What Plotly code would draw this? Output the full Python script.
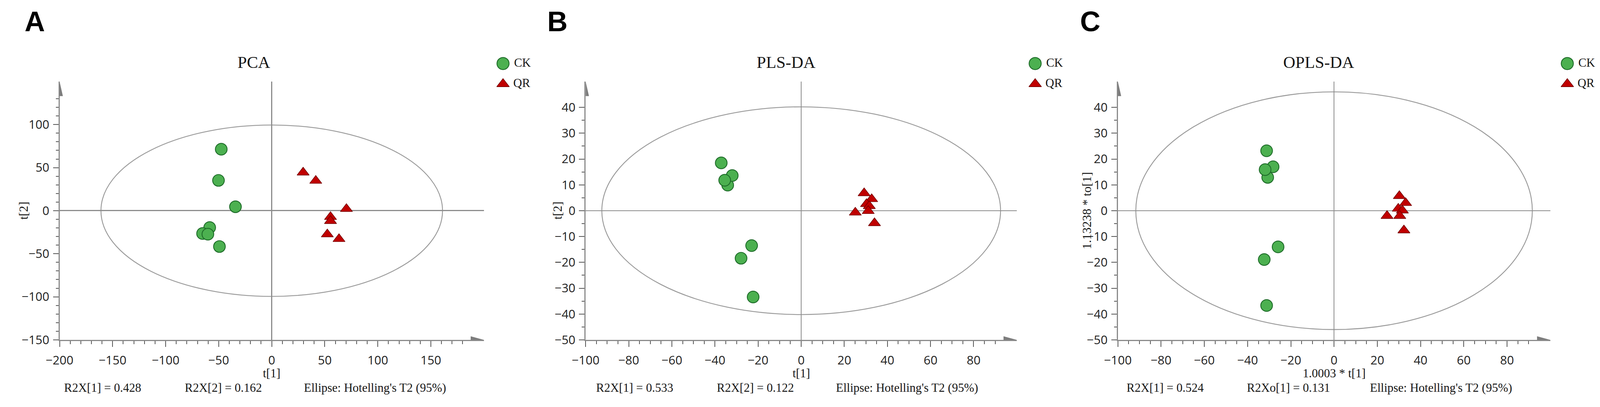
import plotly.graph_objects as go

# reference picture size (pixels); the figure fills the browser window and every
# position below is given in reference pixels and converted to a fraction of it
W, H = 4561, 1043

# ---------------- data ----------------
GROUPS = ["CK", "QR"]

PCA_CK_T1 = [-47.6, -50.2, -34.2, -58.5, -65.2, -60.2, -49.3]
PCA_CK_T2 = [71.4, 35.2, 4.6, -19.6, -26.5, -27.3, -41.6]
PCA_QR_T1 = [29.6, 41.5, 70.4, 55.4, 55.4, 52.4, 63.4]
PCA_QR_T2 = [44.4, 34.8, 2.1, -7.2, -11.9, -27.4, -32.8]

PLS_CK_T1 = [-37.1, -34.1, -32.0, -35.5, -23.0, -27.9, -22.3]
PLS_CK_T2 = [18.5, 9.9, 13.6, 11.8, -13.5, -18.4, -33.4]
PLS_QR_T1 = [29.2, 32.7, 30.3, 31.6, 31.1, 25.1, 34.0]
PLS_QR_T2 = [6.8, 4.5, 2.6, 1.8, -0.1, -0.7, -4.8]

OPLS_CK_T1 = [-31.2, -28.2, -30.7, -31.9, -25.9, -32.3, -31.2]
OPLS_CK_T2 = [23.2, 17.0, 12.9, 15.9, -14.0, -18.9, -36.7]
OPLS_QR_T1 = [30.2, 33.1, 29.7, 31.6, 24.5, 30.4, 32.3]
OPLS_QR_T2 = [5.7, 3.0, 0.8, 0.1, -2.0, -2.0, -7.6]

ELLIPSE_R1 = [161.0, 92.5, 91.7]
ELLIPSE_R2 = [99.5, 40.2, 46.0]

PANEL_LETTERS = ["A", "B", "C"]
PANEL_TITLES = ["PCA", "PLS-DA", "OPLS-DA"]
X_TITLES = ["t[1]", "t[1]", "1.0003 * t[1]"]
Y_TITLES = ["t[2]", "t[2]", "1.13238 * to[1]"]
STATS_1 = ["R2X[1] = 0.428", "R2X[1] = 0.533", "R2X[1] = 0.524"]
STATS_2 = ["R2X[2] = 0.162", "R2X[2] = 0.122", "R2Xo[1] = 0.131"]
ELLIPSE_NOTE = "Ellipse: Hotelling's T2 (95%)"

X_RANGES = [(-200, 200), (-100, 100), (-100, 100)]
Y_RANGES = [(-150, 150), (-50, 50), (-50, 50)]
X_TICKS = [list(range(-200, 151, 50)), list(range(-100, 81, 20)), list(range(-100, 81, 20))]
Y_TICKS = [list(range(-150, 101, 50)), list(range(-50, 41, 10)), list(range(-50, 41, 10))]
X_MINOR = [[v for v in range(-190, 181, 10) if v % 50], [v for v in range(-95, 91, 5) if v % 20],
           [v for v in range(-95, 91, 5) if v % 20]]
Y_MINOR = [[v for v in range(-140, 131, 10) if v % 50], [v for v in range(-45, 41, 5) if v % 10],
           [v for v in range(-45, 41, 5) if v % 10]]

SCORES = [
    (PCA_CK_T1, PCA_CK_T2, PCA_QR_T1, PCA_QR_T2),
    (PLS_CK_T1, PLS_CK_T2, PLS_QR_T1, PLS_QR_T2),
    (OPLS_CK_T1, OPLS_CK_T2, OPLS_QR_T1, OPLS_QR_T2),
]

# ---------------- layout geometry (reference pixels) ----------------
PLOT_X = [(132, 1352), (1644.6, 2884), (3174.8, 4418)]
PLOT_Y = (213, 888)
TITLE_X = [691, 2221, 3752]
LETTER_X = [61, 1563, 3095]
YTITLE_X = [28, 1563, 3085]
STAT1_X = [255, 1785, 3311]
STAT2_X = [602, 2132, 3665]
NOTE_X = [1039, 2569, 4104]
LEGEND_X = [1407, 2937, 4467]
LEGEND_Y = (166, 219.5)
ARROW_LEN, ARROW_HALF = 38, 9.5

# sizes in CSS pixels
TICK_FONT, TITLE_FONT, TEXT_FONT, LEGEND_FONT, YTITLE_FONT, LETTER_FONT = 31, 43, 31, 31, 32, 72
CK_SIZE, QR_SIZE = 30, 27


def fx(p):
    return min(max(p / W, 0.0), 1.0)


def fy(p):
    return min(max(1 - p / H, 0.0), 1.0)


GREEN = "#4cb050"
GREEN_EDGE = "#1d6b28"
RED = "#c00000"
RED_EDGE = "#6e0000"
AXIS_GRAY = "#8a8a8a"
TICK_GRAY = "#555555"
TEXT = "#161616"
SERIF = "Liberation Serif, Times New Roman, serif"
SANS = "Open Sans, Noto Sans, sans-serif"

fig = go.Figure()
shapes = []
annotations = []
layout = {}


def note(text, px, py, size, angle=0):
    return dict(text=text, x=fx(px), y=fy(py), xref="paper", yref="paper", showarrow=False,
                xanchor="center", yanchor="middle", textangle=angle,
                font=dict(family=SERIF, size=size, color=TEXT))


for i in range(3):
    n = i + 1
    sfx = "" if n == 1 else str(n)
    xa, ya = "x" + sfx, "y" + sfx
    ck1, ck2, qr1, qr2 = SCORES[i]
    fig.add_trace(go.Scatter(
        x=ck1, y=ck2, mode="markers", xaxis=xa, yaxis=ya, showlegend=False,
        marker=dict(symbol="circle", size=CK_SIZE, color=GREEN, line=dict(color=GREEN_EDGE, width=2.2))))
    fig.add_trace(go.Scatter(
        x=qr1, y=qr2, mode="markers", xaxis=xa, yaxis=ya, showlegend=False,
        marker=dict(symbol="triangle-up", size=QR_SIZE, color=RED, line=dict(color=RED_EDGE, width=1.4))))

    zw = 3 if i == 0 else 2
    common = dict(showgrid=False, ticks="outside", tickwidth=2, tickcolor=TICK_GRAY,
                  showline=True, linecolor=AXIS_GRAY, linewidth=3,
                  zeroline=True, zerolinecolor="#8c8c8c", zerolinewidth=zw,
                  tickfont=dict(family=SANS, size=TICK_FONT, color="#222222"),
                  tickmode="array", fixedrange=True)
    layout["xaxis" + sfx] = dict(
        common, domain=[fx(PLOT_X[i][0]), fx(PLOT_X[i][1])], range=list(X_RANGES[i]),
        tickvals=X_TICKS[i], anchor=ya, ticklen=15, ticklabelstandoff=8,
        minor=dict(tickvals=X_MINOR[i], ticks="outside", ticklen=8, tickwidth=2, tickcolor=TICK_GRAY))
    layout["yaxis" + sfx] = dict(
        common, domain=[fy(PLOT_Y[1]), fy(PLOT_Y[0])], range=list(Y_RANGES[i]),
        tickvals=Y_TICKS[i], anchor=xa, ticklen=14, ticklabelstandoff=3,
        minor=dict(tickvals=Y_MINOR[i], ticks="outside", ticklen=7, tickwidth=2, tickcolor=TICK_GRAY))

    shapes.append(dict(type="circle", xref=xa, yref=ya, layer="below",
                       x0=-ELLIPSE_R1[i], x1=ELLIPSE_R1[i], y0=-ELLIPSE_R2[i], y1=ELLIPSE_R2[i],
                       line=dict(color="#9a9a9a", width=2.3)))

    # arrowheads, converted from reference-pixel sizes to data units of this panel
    ux = (X_RANGES[i][1] - X_RANGES[i][0]) / (PLOT_X[i][1] - PLOT_X[i][0])
    uy = (Y_RANGES[i][1] - Y_RANGES[i][0]) / (PLOT_Y[1] - PLOT_Y[0])
    xt, yb = X_RANGES[i][1], Y_RANGES[i][0]
    shapes.append(dict(type="path", xref=xa, yref=ya, layer="above",
                       path=f"M {xt - ARROW_LEN * ux} {yb - ARROW_HALF * uy} L {xt} {yb} "
                            f"L {xt - ARROW_LEN * ux} {yb + ARROW_HALF * uy} Z",
                       fillcolor="#7d7d7d", line=dict(width=0)))
    xl, yt = X_RANGES[i][0], Y_RANGES[i][1]
    shapes.append(dict(type="path", xref=xa, yref=ya, layer="above",
                       path=f"M {xl - ARROW_HALF * ux} {yt - ARROW_LEN * uy} L {xl} {yt} "
                            f"L {xl + ARROW_HALF * ux} {yt - ARROW_LEN * uy} Z",
                       fillcolor="#7d7d7d", line=dict(width=0)))

    annotations += [
        dict(text=PANEL_LETTERS[i], x=fx(LETTER_X[i]), y=fy(56), xref="paper", yref="paper",
             showarrow=False, xanchor="center", yanchor="middle",
             font=dict(family="Liberation Sans, Arial, sans-serif", size=LETTER_FONT, color="#000000",
                       weight="bold")),
        note(PANEL_TITLES[i], TITLE_X[i], 163, TITLE_FONT),
        note(X_TITLES[i], (PLOT_X[i][0] + PLOT_X[i][1]) / 2, 975, TEXT_FONT),
        note(Y_TITLES[i], YTITLE_X[i], (PLOT_Y[0] + PLOT_Y[1]) / 2, YTITLE_FONT, angle=-90),
        note(STATS_1[i], STAT1_X[i], 1013, TEXT_FONT),
        note(STATS_2[i], STAT2_X[i], 1013, TEXT_FONT),
        note(ELLIPSE_NOTE, NOTE_X[i], 1013, TEXT_FONT),
    ]

    # legend drawn on a hidden auxiliary axis pair
    ln = n + 3
    lxa, lya = "x" + str(ln), "y" + str(ln)
    ypos = [len(GROUPS) - 1 - k for k in range(len(GROUPS))]
    styles = [dict(symbol="circle", size=CK_SIZE + 1, color=GREEN, line=dict(color=GREEN_EDGE, width=2.2)),
              dict(symbol="triangle-up", size=QR_SIZE + 1, color=RED, line=dict(color=RED_EDGE, width=1.4))]
    for k, g in enumerate(GROUPS):
        fig.add_trace(go.Scatter(
            x=[0], y=[ypos[k]], mode="markers+text", text=[" " + g], textposition="middle right",
            textfont=dict(family=SERIF, size=LEGEND_FONT, color=TEXT),
            xaxis=lxa, yaxis=lya, showlegend=False, cliponaxis=False, marker=styles[k]))
    layout["xaxis" + str(ln)] = dict(domain=[fx(LEGEND_X[i]), fx(LEGEND_X[i] + 60)], range=[0, 1],
                                     visible=False, anchor=lya, fixedrange=True)
    layout["yaxis" + str(ln)] = dict(domain=[fy(LEGEND_Y[1]), fy(LEGEND_Y[0])], range=[0, 1],
                                     visible=False, anchor=lxa, fixedrange=True)

fig.update_layout(
    autosize=True, margin=dict(l=0, r=0, t=0, b=0, pad=0),
    paper_bgcolor="white", plot_bgcolor="white",
    shapes=shapes, annotations=annotations, showlegend=False,
    **layout,
)

# the figure fills the browser window exactly
fig.write_html("out.html", config={"responsive": True, "displayModeBar": False},
               default_width="100vw; position:fixed; left:0; top:0", default_height="100vh")
